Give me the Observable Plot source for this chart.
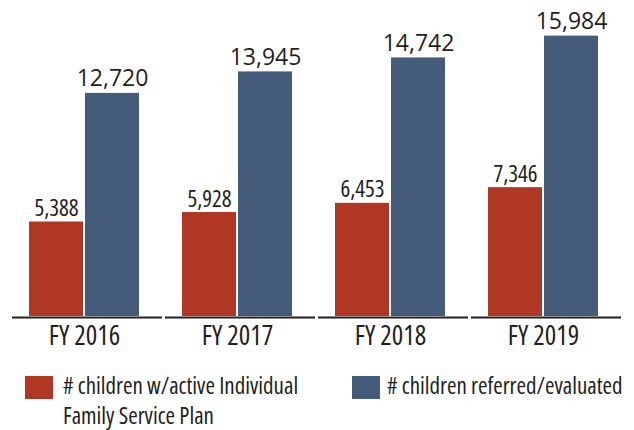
<!DOCTYPE html>
<html>
<head>
<meta charset="utf-8">
<script src="https://cdn.jsdelivr.net/npm/d3@7"></script>
<script src="https://cdn.jsdelivr.net/npm/@observablehq/plot@0.6"></script>
<style>
  html, body { margin: 0; padding: 0; background: #fff; }
  #wrap { position: relative; width: 634px; height: 430px; overflow: hidden; }
  #legend { position: absolute; left: 0; top: 356px; width: 634px; height: 74px;
    font-family: "Open Sans", sans-serif; font-stretch: condensed; font-weight: 370; color: #231f20; font-size: 23px; }
  .sw { position: absolute; width: 28px; height: 23px; }
  .lt { position: absolute; line-height: 30px; white-space: nowrap; }
</style>
</head>
<body>
<div id="wrap">
  <div id="chart"></div>
  <div id="legend"></div>
</div>
<script>
const years = ["2016", "2017", "2018", "2019"];
const ifspCounts = [5388, 5928, 6453, 7346];
const referredCounts = [12720, 13945, 14742, 15984];
const seriesKeys = ["ifsp", "referred"];
const seriesLabels = ["# children w/active Individual Family Service Plan", "# children referred/evaluated"];
const seriesColors = ["#b03724", "#445b79"];

const rows = [];
years.forEach((yr, i) => {
  rows.push({year: yr, series: "ifsp", value: ifspCounts[i]});
  rows.push({year: yr, series: "referred", value: referredCounts[i]});
});

const textColor = "#231f20";
const narrow = "'Open Sans', sans-serif";

const chart = Plot.plot({
  width: 634,
  height: 356,
  marginTop: 0,
  marginBottom: 40,
  marginLeft: 27,
  marginRight: 35,
  style: {fontFamily: narrow, fontStretch: "condensed", fontWeight: 370, color: textColor, background: "#fff"},
  fx: {domain: years, paddingInner: 0.27, paddingOuter: 0, label: null},
  x: {domain: seriesKeys, paddingInner: 0.035, paddingOuter: 0, axis: null},
  y: {domain: [0, 18016], axis: null},
  color: {domain: seriesKeys, range: seriesColors},
  marks: [
    Plot.barY(rows, {fx: "year", x: "series", y: "value", fill: "series"}),
    Plot.text(rows.filter(d => d.series === "ifsp"), {
      fx: "year", x: "series", y: "value", text: d => d3.format(",")(d.value),
      lineAnchor: "bottom", dy: -6, fontSize: 23, fill: textColor, className: "lab-ifsp"
    }),
    Plot.text(rows.filter(d => d.series === "referred"), {
      fx: "year", x: "series", y: "value", text: d => d3.format(",")(d.value),
      lineAnchor: "bottom", dy: -7, fontSize: 23, fill: textColor, className: "lab-ref"
    }),
    Plot.ruleY([0], {stroke: textColor, strokeWidth: 2, insetLeft: -16, insetRight: -22, dy: 1}),
    Plot.axisFx({anchor: "bottom", tickSize: 0, tickPadding: 9, fontSize: 27, tickFormat: d => "FY " + d, label: null, fill: textColor})
  ]
});
d3.select(chart).selectAll(".lab-ref").style("font-stretch", "normal").style("font-weight", "400");
document.getElementById("chart").appendChild(chart);

const legend = document.getElementById("legend");
const legendItems = [
  {left: 25, textLeft: 63, lines: ["# children w/active Individual", "Family Service Plan"]},
  {left: 352, textLeft: 387, lines: ["# children referred/evaluated"]}
];
legendItems.forEach((it, i) => {
  const sw = document.createElement("div");
  sw.className = "sw";
  sw.style.left = it.left + "px";
  sw.style.top = "20px";
  sw.style.background = seriesColors[i];
  legend.appendChild(sw);
  const t = document.createElement("div");
  t.className = "lt";
  t.style.left = it.textLeft + "px";
  t.style.top = "14px";
  t.innerHTML = it.lines.join("<br>");
  t.title = seriesLabels[i];
  legend.appendChild(t);
});
</script>
</body>
</html>
